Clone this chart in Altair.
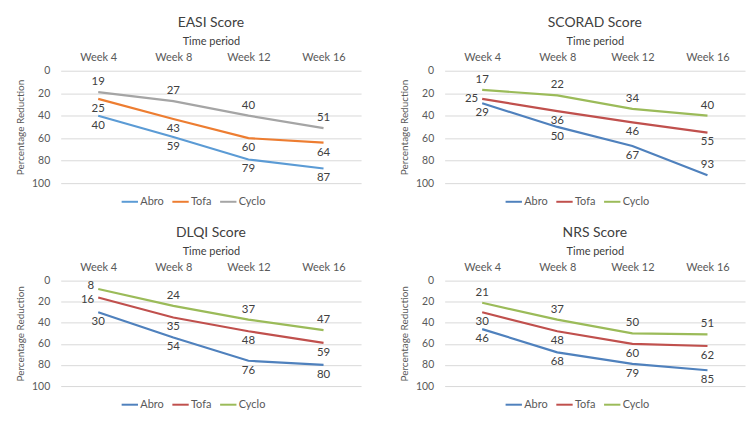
import altair as alt
import pandas as pd

weeks = ["Week 4", "Week 8", "Week 12", "Week 16"]
series = ["Abro", "Tofa", "Cyclo"]

easi_abro = [40, 59, 79, 87]
easi_tofa = [25, 43, 60, 64]
easi_cyclo = [19, 27, 40, 51]

scorad_abro = [29, 50, 67, 93]
scorad_tofa = [25, 36, 46, 55]
scorad_cyclo = [17, 22, 34, 40]

dlqi_abro = [30, 54, 76, 80]
dlqi_tofa = [16, 35, 48, 59]
dlqi_cyclo = [8, 24, 37, 47]

nrs_abro = [46, 68, 79, 85]
nrs_tofa = [30, 48, 60, 62]
nrs_cyclo = [21, 37, 50, 51]

office_colors = ["#5B9BD5", "#ED7D31", "#A5A5A5"]
classic_colors = ["#4F81BD", "#C0504D", "#9BBB59"]

FONT = "Lato"
TXT = "#404040"
LBL = "#595959"

# label placement styles: (dx, dy, align)
PLACE = {
    "above": (0, -10, "center"),
    "below": (0, 10, "center"),
    "left": (-4, 0, "right"),
    "upleft": (-4, -3, "right"),
    "downleft": (-4, 3, "right"),
}


def panel(title, abro, tofa, cyclo, colors, w, h, overrides=None):
    overrides = overrides or {}
    rows = []
    for s, vals in zip(series, [abro, tofa, cyclo]):
        for i, (wk, v) in enumerate(zip(weeks, vals)):
            pos = "above" if s == "Cyclo" else "below"
            pos = overrides.get((s, i), pos)
            rows.append(dict(week=wk, series=s, value=v, pos=pos, idx=i))
    df = pd.DataFrame(rows)
    base = alt.Chart(df)
    x = alt.X(
        "week:N", sort=weeks,
        scale=alt.Scale(type="point", padding=0.5),
        axis=alt.Axis(orient="top", title="Time period", labelAngle=0, ticks=False,
                      domain=False, grid=False, labelPadding=8, titlePadding=5,
                      labelFontSize=11, titleFontSize=11, labelColor=LBL,
                      titleColor=TXT, titleFontWeight="normal", labelFont=FONT,
                      titleFont=FONT),
    )
    y = alt.Y(
        "value:Q",
        scale=alt.Scale(domain=[0, 100], reverse=True, nice=False),
        axis=alt.Axis(values=[0, 20, 40, 60, 80, 100], title="Percentage Reduction",
                      ticks=False, domain=False, grid=True, gridColor="#D9D9D9",
                      gridWidth=1, labelPadding=11, titlePadding=6,
                      labelFontSize=10.5, titleFontSize=10, labelColor=LBL,
                      titleColor=LBL, titleFontWeight="normal", labelFont=FONT,
                      titleFont=FONT),
    )
    line = base.mark_line(strokeWidth=2.2).encode(
        x=x, y=y,
        color=alt.Color(
            "series:N",
            scale=alt.Scale(domain=series, range=colors),
            legend=alt.Legend(orient="none", direction="horizontal", title=None,
                              legendX=60, legendY=h + 9,
                              symbolType="stroke", symbolStrokeWidth=2,
                              symbolSize=270, labelFontSize=11, labelColor=LBL,
                              labelFont=FONT, labelOffset=1, columnPadding=4),
        ),
        order=alt.Order("idx:Q"),
    )
    layers = [line]
    for name, (dx, dy, align) in PLACE.items():
        if name not in set(df["pos"]):
            continue
        layers.append(
            base.transform_filter(alt.datum.pos == name).mark_text(
                dx=dx, dy=dy, align=align, fontSize=11.5, color=TXT, font=FONT
            ).encode(x=x, y=y, text="value:Q")
        )
    return alt.layer(*layers).properties(
        width=w, height=h,
        title=alt.TitleParams(title, fontSize=14, color=TXT, fontWeight="normal",
                              font=FONT, anchor="middle", offset=6),
    )


p1 = panel("EASI Score", easi_abro, easi_tofa, easi_cyclo, office_colors, 302, 113)
p2 = panel("SCORAD Score", scorad_abro, scorad_tofa, scorad_cyclo, classic_colors, 302, 113,
           {("Tofa", 0): "left", ("Abro", 3): "above"})
p3 = panel("DLQI Score", dlqi_abro, dlqi_tofa, dlqi_cyclo, classic_colors, 302, 106,
           {("Tofa", 0): "downleft", ("Cyclo", 0): "upleft"})
p4 = panel("NRS Score", nrs_abro, nrs_tofa, nrs_cyclo, classic_colors, 302, 106)

row1 = alt.hconcat(p1, p2, spacing=38).resolve_scale(color="independent").resolve_legend(color="independent")
row2 = alt.hconcat(p3, p4, spacing=38).resolve_scale(color="independent").resolve_legend(color="independent")

chart = alt.vconcat(row1, row2, spacing=19).resolve_scale(color="independent").resolve_legend(
    color="independent"
).properties(
    padding={"left": 15, "top": 15, "right": 5, "bottom": 5},
    background="white",
).configure_view(stroke=None)

chart.save("out.html", embed_options={"renderer": "svg", "actions": False})
